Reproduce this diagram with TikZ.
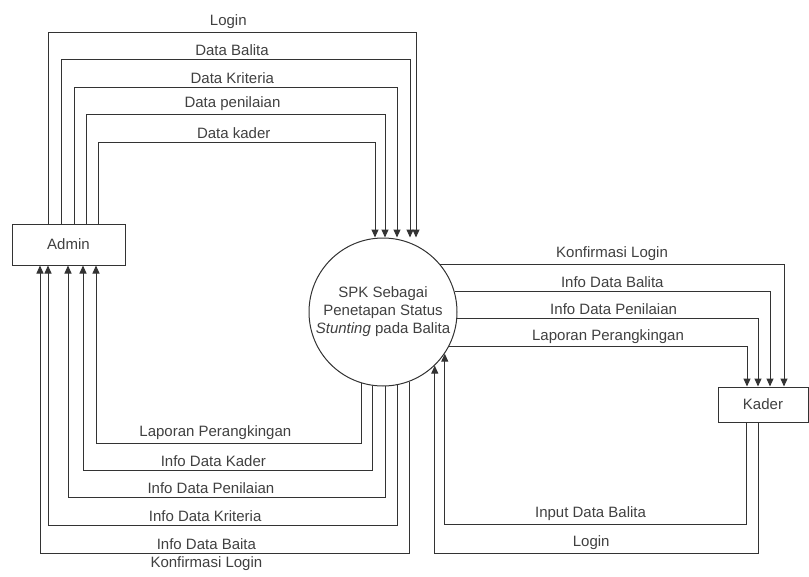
\documentclass[tikz,border=0pt]{standalone}
\usepackage{fontspec}
\setmainfont{Liberation Sans}
\usepackage{tikz}
\usetikzlibrary{arrows.meta, positioning, shapes.geometric, calc}
\definecolor{dline}{HTML}{333333}
\definecolor{dtext}{HTML}{404040}
\tikzset{
  entity/.style={draw=dline, line width=1pt, fill=white, minimum height=41pt, text=dtext},
  proc/.style={circle, draw=dline, line width=1pt, minimum size=148pt, align=center,
               inner sep=0pt, text=dtext},
  flow/.style={-{Triangle[length=8pt,width=7pt]}, line width=1pt, dline},
  lbl/.style={above=1pt, inner sep=2pt, text=dtext},
  lblb/.style={below=1pt, inner sep=2pt, text=dtext},
}

\begin{document}
\begin{tikzpicture}[x=1pt, y=-1pt, every node/.style={font=\fontsize{15}{18}\selectfont}]
  \useasboundingbox (0,0) rectangle (809,576);
  \node[entity, minimum width=113pt] (admin) at (68.5,244.5) {Admin};
  \node[entity, minimum width=90pt, minimum height=35pt] (kader) at (763,404.5) {Kader};
  \node[proc] (spk) at (383,312) {SPK Sebagai\\Penetapan Status\\\textit{Stunting} pada Balita};

  \draw[flow] (admin.north -| 48,0) |- node[lbl, pos=0.745]{Login} (416,32) -- (416,0 |- spk.north);
  \draw[flow] (admin.north -| 61,0) |- node[lbl, pos=0.745]{Data Balita} (410,59) -- (410,0 |- spk.north);
  \draw[flow] (admin.north -| 74,0) |- node[lbl, pos=0.745]{Data Kriteria} (397,87) -- (397,0 |- spk.north);
  \draw[flow] (admin.north -| 86,0) |- node[lbl, pos=0.745]{Data penilaian} (385,114) -- (385,0 |- spk.north);
  \draw[flow] (admin.north -| 98,0) |- node[lbl, pos=0.745]{Data kader} (375,142) -- (375,0 |- spk.north);

  \draw[flow] (spk.-107) |- node[lbl, pos=0.775]{Laporan Perangkingan} (96,443) -- (admin.south -| 96,0);
  \draw[flow] (spk.-98) |- node[lbl, pos=0.775]{Info Data Kader} (83,470) -- (admin.south -| 83,0);
  \draw[flow] (spk.-88) |- node[lbl, pos=0.775]{Info Data Penilaian} (68,497) -- (admin.south -| 68,0);
  \draw[flow] (spk.-79) |- node[lbl, pos=0.775]{Info Data Kriteria} (48,525) -- (admin.south -| 48,0);
  \draw[flow] (spk.-69) |- node[lbl, pos=0.775]{Info Data Baita} node[lblb, pos=0.775]{Konfirmasi Login}
    (40,553) -- (admin.south -| 40,0);

  \draw[flow] (spk.40) -| node[lbl, pos=0.25]{Konfirmasi Login} (kader.north -| 784,0);
  \draw[flow] (spk.16) -| node[lbl, pos=0.25]{Info Data Balita} (kader.north -| 770,0);
  \draw[flow] (spk.-5) -| node[lbl, pos=0.26]{Info Data Penilaian} (kader.north -| 758,0);
  \draw[flow] (spk.-28) -| node[lbl, pos=0.267]{Laporan Perangkingan} (kader.north -| 747,0);

  \draw[flow] (kader.south -| 746,0) |- node[lbl, pos=0.758]{Input Data Balita} (spk.-34 |- 0,524) -- (spk.-34);
  \draw[flow] (kader.south -| 758,0) |- node[lbl, pos=0.758]{Login} (spk.-46 |- 0,553) -- (spk.-46);
\end{tikzpicture}
\end{document}
